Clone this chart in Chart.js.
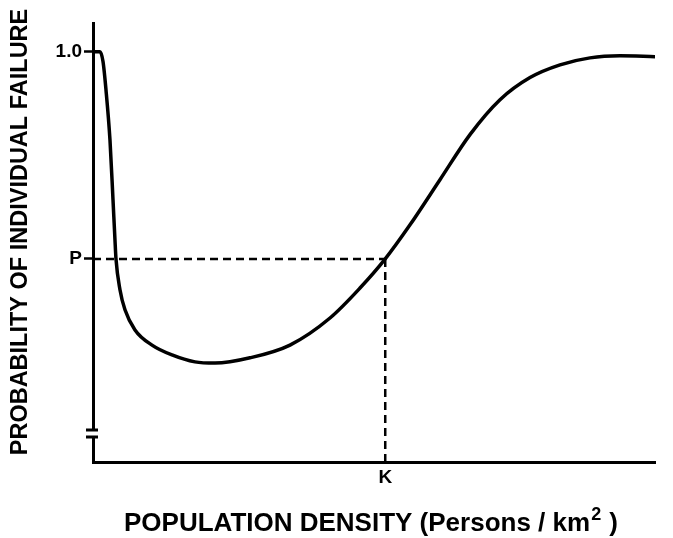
<!DOCTYPE html>
<html lang="en">
<head>
    <meta charset="UTF-8">
    <title>Probability of Individual Failure</title>
    <script src="https://cdn.jsdelivr.net/npm/chart.js"></script>
    <style>
        body {
            margin: 0;
            padding: 0;
            background-color: #ffffff;
        }
        #chart-box {
            width: 673px;
            height: 538px;
        }
    </style>
</head>
<body>
    <div id="chart-box">
        <canvas id="failureChart"></canvas>
    </div>

    <script>
        // population density (0..100 across the axis) and probability of failure
        const densityValues = [0, 1.25, 1.78, 2.31, 3.02, 3.56, 3.91, 4.09, 4.8, 5.69, 7.47, 10.5, 14.06, 18.15, 21.71, 27.94, 35.05, 42.17, 47.51, 52.0, 56.41, 61.74, 67.08, 72.42, 77.76, 83.1, 88.43, 93.77, 100];
        const probabilityValues = [1.0, 1.0, 0.976, 0.907, 0.785, 0.639, 0.541, 0.495, 0.42, 0.371, 0.322, 0.285, 0.261, 0.244, 0.241, 0.254, 0.285, 0.351, 0.424, 0.495, 0.578, 0.688, 0.798, 0.883, 0.937, 0.968, 0.985, 0.99, 0.988];
        const K = 52.0;
        const P = 0.495;
        const yTickValues = [P, 1.0];
        const yTickLabels = ['P', '1.0'];
        const xTickValues = [K];
        const xTickLabels = ['K'];
        const yTitle = 'PROBABILITY OF INDIVIDUAL FAILURE';
        const xTitle = 'POPULATION DENSITY (Persons / km';

        const curve = densityValues.map((x, i) => ({ x: x, y: probabilityValues[i] }));
        const titleFont = 'bold 26px "Liberation Sans", Arial, sans-serif';
        const yTitleFont = 'bold 23.5px "Liberation Sans", Arial, sans-serif';
        const supFont = 'bold 18px "Liberation Sans", Arial, sans-serif';

        const axisExtras = {
            id: 'axisExtras',
            afterDraw(chart) {
                const ctx = chart.ctx;
                const ys = chart.scales.y;
                const xs = chart.scales.x;
                const x0 = xs.getPixelForValue(0);
                const b1 = ys.getPixelForValue(0.078);
                const b2 = ys.getPixelForValue(0.061);
                ctx.save();
                // axis break
                ctx.fillStyle = '#ffffff';
                ctx.fillRect(x0 - 4, b1 + 1, 8, b2 - b1 - 2);
                ctx.strokeStyle = '#000';
                ctx.lineWidth = 3;
                ctx.beginPath();
                ctx.moveTo(x0 - 7, b1); ctx.lineTo(x0 + 5, b1);
                ctx.moveTo(x0 - 7, b2); ctx.lineTo(x0 + 5, b2);
                ctx.stroke();

                ctx.fillStyle = '#000';

                // y title
                ctx.save();
                ctx.translate(21, 232);
                ctx.rotate(-Math.PI / 2);
                ctx.font = yTitleFont;
                ctx.textAlign = 'center';
                ctx.textBaseline = 'middle';
                ctx.fillText(yTitle, 0, 0);
                ctx.restore();

                // x title with superscript
                ctx.textBaseline = 'alphabetic';
                ctx.textAlign = 'left';
                ctx.font = titleFont;
                const w1 = ctx.measureText(xTitle).width;
                const w3 = ctx.measureText(' )').width;
                ctx.font = supFont;
                const w2 = ctx.measureText('2').width;
                let tx = 371 - (w1 + w2 + w3 + 2) / 2;
                const base = 531;
                ctx.font = titleFont;
                ctx.fillText(xTitle, tx, base);
                tx += w1 + 1;
                ctx.font = supFont;
                ctx.fillText('2', tx, base - 11);
                tx += w2 + 1;
                ctx.font = titleFont;
                ctx.fillText(' )', tx, base);
                ctx.restore();
            }
        };

        new Chart(document.getElementById('failureChart'), {
            type: 'scatter',
            data: {
                datasets: [
                    {
                        data: curve,
                        showLine: true,
                        borderColor: '#000',
                        borderWidth: 3.5,
                        pointRadius: 0,
                        cubicInterpolationMode: 'monotone'
                    },
                    {
                        data: [{ x: 0, y: P }, { x: K, y: P }],
                        showLine: true,
                        borderColor: '#000',
                        borderWidth: 2.5,
                        borderDash: [8, 5],
                        pointRadius: 0
                    },
                    {
                        data: [{ x: K, y: P }, { x: K, y: 0 }],
                        showLine: true,
                        borderColor: '#000',
                        borderWidth: 2.5,
                        borderDash: [8, 5],
                        pointRadius: 0
                    }
                ]
            },
            options: {
                responsive: true,
                maintainAspectRatio: false,
                animation: false,
                layout: {
                    padding: { top: 23, right: 18, left: 0, bottom: 0 }
                },
                plugins: {
                    legend: { display: false },
                    tooltip: { enabled: false }
                },
                scales: {
                    x: {
                        type: 'linear',
                        min: 0,
                        max: 100,
                        afterBuildTicks: (scale) => {
                            scale.ticks = xTickValues.map(v => ({ value: v }));
                        },
                        afterFit: (scale) => { scale.height = 76; },
                        ticks: {
                            autoSkip: false,
                            maxRotation: 0,
                            padding: 4,
                            color: '#000',
                            font: { family: '"Liberation Sans", Arial, sans-serif', size: 19, weight: 'bold' },
                            callback: (v) => xTickLabels[xTickValues.indexOf(v)]
                        },
                        grid: { drawOnChartArea: false, drawTicks: false },
                        border: { color: '#000', width: 3 }
                    },
                    y: {
                        type: 'linear',
                        min: 0,
                        max: 1.07,
                        afterBuildTicks: (scale) => {
                            scale.ticks = yTickValues.map(v => ({ value: v }));
                        },
                        afterFit: (scale) => { scale.width = 93; },
                        ticks: {
                            autoSkip: false,
                            padding: 2,
                            color: '#000',
                            font: { family: '"Liberation Sans", Arial, sans-serif', size: 19, weight: 'bold' },
                            callback: (v) => yTickLabels[yTickValues.indexOf(v)]
                        },
                        grid: { drawOnChartArea: false, drawTicks: true, tickLength: 9, tickWidth: 2.5, tickColor: '#000' },
                        border: { color: '#000', width: 3 }
                    }
                }
            },
            plugins: [axisExtras]
        });
    </script>
</body>
</html>
